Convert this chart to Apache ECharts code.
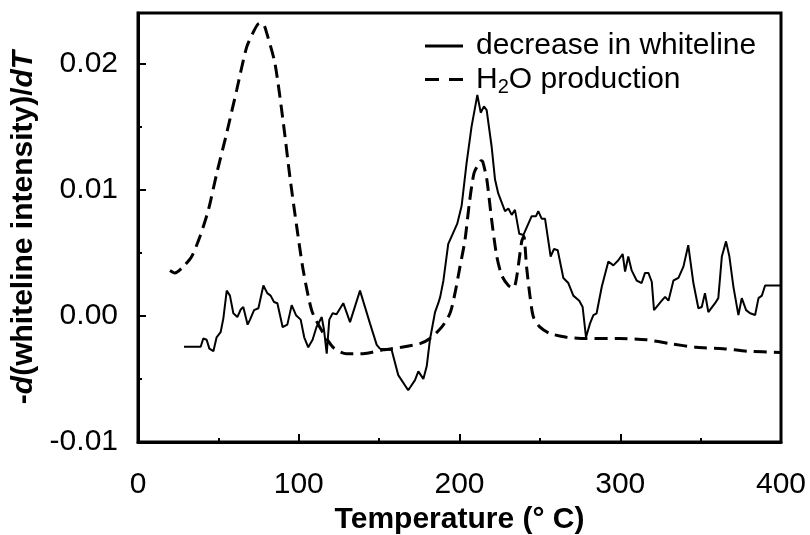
<!DOCTYPE html>
<html>
<head>
<meta charset="utf-8">
<script src="https://cdn.jsdelivr.net/npm/echarts@6/dist/echarts.min.js"></script>
<style>html,body{margin:0;padding:0;background:#fff}#c{width:810px;height:535px}</style>
</head>
<body>
<div id="c"></div>
<script>
const seriesNames = ['decrease in whiteline', 'H2O production'];
const xTicks = [0, 100, 200, 300, 400];
const yTicks = [-0.01, 0.00, 0.01, 0.02];

const whitelineT = [28.6,39,40.6,42.7,44.4,46.9,48.9,51.4,53.1,55.2,57.2,59.3,61.8,63.9,65.5,68.2,69.7,72.2,74.9,78,80.4,82.5,84.6,86.7,90,92.9,95.6,98.3,101.2,103.4,105.9,108.6,111,114.3,115.7,117.4,119,121.1,123.5,127.7,131.9,138.1,144.3,148.5,150.5,157.8,161.9,168.1,172.3,174.4,177.5,179.6,181.6,184.8,186.8,188,190,193,195.8,198.6,201.3,204.4,207.5,211.1,213.2,215.2,216.9,220,222.1,224.1,228.3,230.4,232.5,234.5,237.2,239.7,244.9,247.6,249,251.1,253.2,256.7,258.8,261.1,264.6,267.7,270.8,274.5,276.6,278.7,281.2,283.3,285.3,288.5,292.6,295.7,298.8,301.5,303,305,307.1,310.2,313.3,315.4,317.5,319.6,321,325.8,327.9,330,333.1,336.2,339.3,342.3,345.5,348.6,350.7,352.7,354.8,359,361,363.2,365.8,367.9,370.4,373.5,375.6,378.3,380.8,383.9,386,388.1,390.1,400];
const whitelineV = [-0.00245,-0.00245,-0.0018,-0.0019,-0.0026,-0.0028,-0.0017,-0.0013,-0.0002,0.0020,0.0016,0.0002,-0.0001,0.0005,0.0007,-0.0007,-0.0003,0.00045,0.0006,0.0024,0.0018,0.0016,0.0011,0.0010,-0.0009,-0.0007,0.00085,0.00005,-0.0003,-0.0017,-0.0025,-0.0019,-0.0009,-0.0001,-0.0011,-0.0030,-0.0003,0.0002,0.00013,0.0010,-0.0005,0.0020,-0.0006,-0.0023,-0.0026,-0.0027,-0.0047,-0.0059,-0.0051,-0.0044,-0.0050,-0.0040,-0.0019,0.0003,0.0010,0.0015,0.0028,0.0057,0.0065,0.0073,0.0087,0.0121,0.0150,0.0175,0.0161,0.0166,0.0163,0.0134,0.0108,0.0097,0.0083,0.0085,0.0080,0.0084,0.0065,0.0064,0.0079,0.0079,0.0083,0.0077,0.0077,0.0047,0.0053,0.0052,0.0030,0.0026,0.0016,0.0012,0.0007,-0.0017,-0.0006,0.00006,0.0002,0.0023,0.0043,0.0040,0.0044,0.0049,0.0035,0.0047,0.0036,0.0028,0.0026,0.0034,0.0034,0.0027,0.00045,0.0012,0.0015,0.0012,0.0028,0.0030,0.0039,0.0056,0.0026,0.0006,0.0007,0.0018,0.0003,0.0010,0.0014,0.0047,0.0059,0.0047,0.0023,0.00006,0.0014,0.00045,0.0002,0.00006,0.0014,0.0016,0.0024,0.0024];

const waterT = [19.9,23,28.2,33.4,38.6,43.8,49,55.2,61.4,67.6,71.8,74.5,76.5,78.5,80.1,85.2,90.4,94.5,98.7,102.8,108,113.1,121.4,129.7,140,152.5,163.3,175.4,181.6,188.9,194.1,197.2,200.3,203.4,206.1,209,211.7,213.5,214.5,217,220,223.2,226.3,230.4,233.6,235.6,238.7,240,241.7,243.9,246,250.1,256.3,266.7,279.1,299.8,316.4,331,347.5,364.1,378.7,400];
const waterV = [0.0036,0.0034,0.0039,0.0047,0.0063,0.0084,0.0113,0.0145,0.0179,0.0213,0.0225,0.0231,0.0232,0.0230,0.0224,0.0200,0.0153,0.0110,0.0071,0.0036,0.00045,-0.0009,-0.0025,-0.0030,-0.0030,-0.0027,-0.0025,-0.0022,-0.0018,-0.0009,0.0002,0.0018,0.0039,0.0060,0.0089,0.0113,0.0120,0.0123,0.0122,0.0108,0.0076,0.0047,0.0032,0.0024,0.0022,0.0031,0.0059,0.0063,0.0039,0.0015,-0.0001,-0.0009,-0.0014,-0.0017,-0.0018,-0.0018,-0.0019,-0.0022,-0.0025,-0.0026,-0.0028,-0.0029];

const FONT = "'Liberation Sans', Arial, sans-serif";
const FS = 30;
const chart = echarts.init(document.getElementById('c'), null, {renderer: 'canvas'});
const pairs = (xs, ys) => xs.map((x, i) => [x, ys[i]]);
const yMin = yTicks[0], yMax = 0.024;

chart.setOption({
  animation: false,
  backgroundColor: '#fff',
  grid: {left: 138, right: 29, top: 13, bottom: 93, outerBoundsMode: 'none', containLabel: false,
    show: true, borderColor: '#000', borderWidth: 3, backgroundColor: 'transparent'},
  legend: {
    orient: 'vertical', left: 420, top: 26, itemWidth: 38, itemHeight: 3, itemGap: 0,
    data: [
      {name: seriesNames[0], icon: 'path://M0,0H38V3H0Z'},
      {name: seriesNames[1], icon: 'path://M0,0H14V3H0Z M24,0H38V3H24Z'}
    ],
    formatter: function (n) { return n === 'H2O production' ? '{a|H}{s|2}{a|O production}' : '{a|' + n + '}'; },
    textStyle: {fontFamily: FONT, fontSize: FS, color: '#000', padding: [0,0,0,8],
      rich: {a: {fontFamily: FONT, fontSize: FS, color: '#000', lineHeight: 35},
             s: {fontFamily: FONT, fontSize: 20, color: '#000', verticalAlign: 'bottom', lineHeight: 35, padding: [16,0,0,0]}}}
  },
  xAxis: {
    type: 'value', min: xTicks[0], max: xTicks[xTicks.length - 1], interval: 100,
    name: 'Temperature (° C)', nameLocation: 'middle', nameGap: 60,
    nameTextStyle: {fontFamily: FONT, fontSize: FS, fontWeight: 'bold', color: '#000'},
    axisLine: {onZero: false, lineStyle: {color: '#000', width: 3}},
    axisTick: {inside: true, length: 8, lineStyle: {color: '#000', width: 2}},
    minorTick: {show: true, splitNumber: 2, length: 4, lineStyle: {color: '#000', width: 2}},
    splitLine: {show: false},
    axisLabel: {fontFamily: FONT, fontSize: FS, color: '#000', margin: 28}
  },
  yAxis: [{
    type: 'value', min: yMin, max: yMax, interval: 0.01,
    name: '{b|-}{bi|d}{b|(whiteline intensity)/}{bi|dT}', nameLocation: 'middle', nameRotate: 90, nameGap: 86,
    nameTextStyle: {rich: {
      b: {fontFamily: FONT, fontSize: FS, fontWeight: 'bold', color: '#000'},
      bi: {fontFamily: FONT, fontSize: FS, fontWeight: 'bold', fontStyle: 'italic', color: '#000'}}},
    axisLine: {onZero: false, lineStyle: {color: '#000', width: 3}},
    axisTick: {inside: true, length: 8, lineStyle: {color: '#000', width: 2}},
    splitLine: {show: false},
    axisLabel: {fontFamily: FONT, fontSize: FS, color: '#000', margin: 20, showMaxLabel: false,
      formatter: v => (yTicks.some(t => Math.abs(t - v) < 1e-9) ? v.toFixed(2) : '')}
  }, {
    type: 'value', min: yMin, max: yMax, interval: 0.005, position: 'left',
    axisLine: {show: false, onZero: false}, axisLabel: {show: false}, splitLine: {show: false},
    axisTick: {inside: true, length: 4, lineStyle: {color: '#000', width: 2}}
  }],
  series: [{
    name: seriesNames[0], type: 'line', yAxisIndex: 0, data: pairs(whitelineT, whitelineV),
    showSymbol: false, symbol: 'none', lineStyle: {color: '#000', width: 2}, itemStyle: {color: '#000'}
  }, {
    name: seriesNames[1], type: 'line', yAxisIndex: 0, data: pairs(waterT, waterV), smooth: 0.25,
    showSymbol: false, symbol: 'none', lineStyle: {color: '#000', width: 3, type: [13, 7]}, itemStyle: {color: '#000'}
  }]
});
</script>
</body>
</html>
